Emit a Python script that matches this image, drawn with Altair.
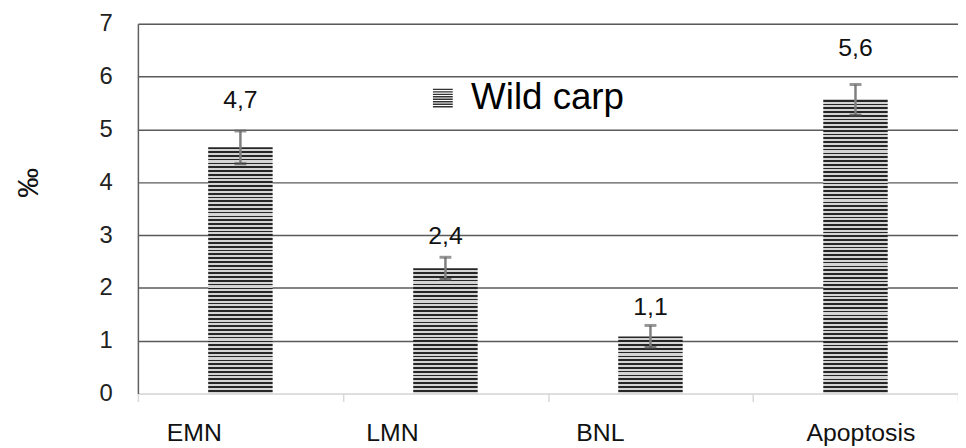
import altair as alt
import pandas as pd

# ---- data ----
categories = ["EMN", "LMN", "BNL", "Apoptosis"]
values = [4.66, 2.37, 1.08, 5.56]
errors = [0.31, 0.21, 0.21, 0.29]
value_labels = ["4,7", "2,4", "1,1", "5,6"]
series_name = "Wild carp"
y_ticks = [0, 1, 2, 3, 4, 5, 6, 7]
y_title = "‰"

df = pd.DataFrame({
    "category": categories,
    "value": values,
    "err": errors,
    "label": value_labels,
    "series": [series_name] * len(categories),
})

# ---- styling ----
FONT = "Liberation Sans"
W, H = 827, 373
YMAX = 7
PX_PER_UNIT = H / YMAX
PERIOD = 3.8
DARK = "#262626"
LIGHT = "#d4d4d4"
BAR_W = 65
label_dy = {"EMN": -31, "LMN": -21, "BNL": -19, "Apoptosis": -37}
x_label_offset = {"EMN": -47, "LMN": -54, "BNL": -51}


def stripes(v):
    h = v * PX_PER_UNIT
    n = max(1, int(round(h / PERIOD)))
    stops = []
    for i in range(n):
        a = i / n
        b = (i + 0.45) / n
        c = (i + 1) / n
        stops += [
            {"offset": a, "color": DARK},
            {"offset": b, "color": DARK},
            {"offset": b, "color": LIGHT},
            {"offset": min(c, 1.0), "color": LIGHT},
        ]
    return {"gradient": "linear", "x1": 0, "y1": 0, "x2": 0, "y2": 1, "stops": stops}


def icon_path(n=8):
    parts = []
    step = 2.0 / n
    for i in range(n):
        y0 = -1 + i * step
        y1 = y0 + step * 0.55
        parts.append(f"M-1,{y0:.3f}H1V{y1:.3f}H-1Z")
    return " ".join(parts)


x_enc = alt.X(
    "category:N",
    sort=categories,
    scale=alt.Scale(domain=categories, paddingInner=0, paddingOuter=0),
    axis=alt.Axis(
        title=None,
        labelAngle=0,
        labelFont=FONT,
        labelFontSize=25,
        labelColor="#111111",
        labelPadding=19,
        labelOffset={
            "condition": [
                {"test": f"datum.value === '{k}'", "value": v}
                for k, v in x_label_offset.items()
            ],
            "value": 5,
        },
        domainColor="#d9d9d9",
        domainWidth=1.5,
        tickColor="#d9d9d9",
        tickWidth=1.5,
        tickSize=8,
        tickBand="extent",
        grid=False,
    ),
)

y_scale = alt.Scale(domain=[0, YMAX], nice=False, zero=True)

y_enc = alt.Y(
    "value:Q",
    scale=y_scale,
    axis=alt.Axis(
        values=y_ticks,
        format="d",
        title=y_title,
        titleFont=FONT,
        titleFontSize=30,
        titleFontWeight="normal",
        titleColor="#111111",
        titleAngle=270,
        titleAlign="center",
        titleBaseline="middle",
        titleX=-110,
        titleY=160,
        labelFont=FONT,
        labelFontSize=24,
        labelColor="#222222",
        labelPadding=26,
        ticks=False,
        domainColor="#5f5f5f",
        domainWidth=1.5,
        grid=True,
        gridColor={
            "condition": {"test": "datum.value === 0", "value": "transparent"},
            "value": "#5a5a5a",
        },
        gridWidth=1.5,
    ),
)

base = alt.Chart(df).transform_calculate(
    lo="datum.value - datum.err", hi="datum.value + datum.err"
)

layers = []
for c, v in zip(categories, values):
    layers.append(
        base.transform_filter(alt.datum.category == c)
        .mark_bar(fill=stripes(v), size=BAR_W)
        .encode(x=x_enc, y=y_enc)
    )

err_rule = base.mark_rule(color="#7f7f7f", strokeWidth=2.5).encode(
    x=alt.X("category:N", sort=categories),
    y=alt.Y("lo:Q", scale=y_scale),
    y2="hi:Q",
)
cap_hi = base.mark_tick(color="#6a6a6a", size=12, thickness=3).encode(
    x=alt.X("category:N", sort=categories), y=alt.Y("hi:Q", scale=y_scale)
)
cap_lo = base.mark_tick(color="#4a4a4a", size=12, thickness=3).encode(
    x=alt.X("category:N", sort=categories), y=alt.Y("lo:Q", scale=y_scale)
)
layers += [err_rule, cap_hi, cap_lo]

for c in categories:
    layers.append(
        base.transform_filter(alt.datum.category == c)
        .mark_text(dy=label_dy[c], font=FONT, fontSize=25, color="#111111", baseline="middle")
        .encode(x=alt.X("category:N", sort=categories), y=alt.Y("hi:Q", scale=y_scale), text="label:N")
    )

legend_layer = base.mark_point(size=0, filled=True, opacity=0).encode(
    x=alt.X("category:N", sort=categories),
    y=alt.Y("value:Q", scale=y_scale),
    color=alt.Color(
        "series:N",
        scale=alt.Scale(range=["#333333"]),
        legend=alt.Legend(
            title=None,
            orient="none",
            legendX=289,
            legendY=57,
            padding=0,
            symbolType=icon_path(),
            symbolSize=400,
            symbolOpacity=1,
            symbolStrokeWidth=0,
            symbolFillColor="#333333",
            labelFont=FONT,
            labelFontSize=37,
            labelColor="#000000",
            labelOffset=10,
            labelLimit=400,
        ),
    ),
)
layers.append(legend_layer)

chart = (
    alt.layer(*layers)
    .properties(
        width=W,
        height=H,
        autosize=alt.AutoSizeParams(type="none"),
        padding={"left": 131, "top": 14, "right": 0, "bottom": 53},
    )
    .configure_view(stroke=None)
    .configure(background="white")
)

chart.save("out.html", embed_options={"renderer": "svg", "actions": False})
